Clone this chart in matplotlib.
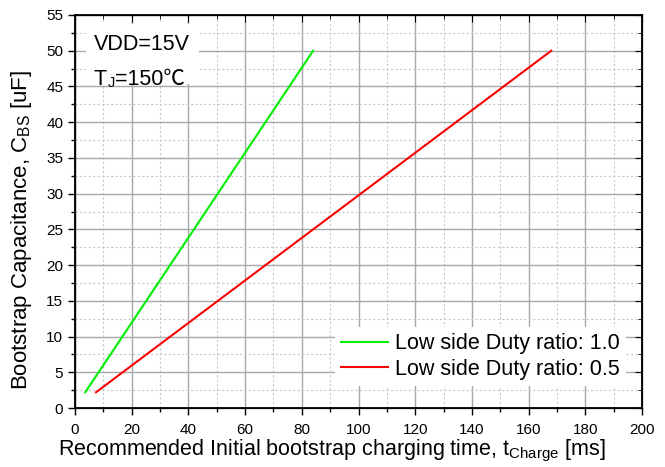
import matplotlib
matplotlib.use("Agg")
import matplotlib.pyplot as plt
from matplotlib.ticker import MultipleLocator
from matplotlib.patches import Rectangle

plt.rcParams['font.family'] = ['Liberation Sans', 'DejaVu Sans']
plt.rcParams['mathtext.fontset'] = 'custom'
plt.rcParams['mathtext.rm'] = 'Liberation Sans'
plt.rcParams['mathtext.it'] = 'Liberation Sans'

t_duty10 = [3.6, 84.0]
c_duty10 = [2.2, 50.0]
t_duty05 = [7.4, 168.0]
c_duty05 = [2.2, 50.0]
labels = ["Low side Duty ratio: 1.0", "Low side Duty ratio: 0.5"]

fig = plt.figure(figsize=(6.65, 4.67), dpi=100)
ax = fig.add_axes([0.1128, 0.1263, 0.8526, 0.8416])

ax.plot(t_duty10, c_duty10, color='#00ee00', lw=1.5, label=labels[0])
ax.plot(t_duty05, c_duty05, color='#ff0000', lw=1.5, label=labels[1])

ax.set_xlim(0, 200)
ax.set_ylim(0, 55)
ax.xaxis.set_major_locator(MultipleLocator(20))
ax.xaxis.set_minor_locator(MultipleLocator(10))
ax.yaxis.set_major_locator(MultipleLocator(5))
ax.yaxis.set_minor_locator(MultipleLocator(2.5))

ax.grid(which='major', color='#a8a8a8', lw=1.0, ls='-')
ax.grid(which='minor', color='#c8c8c8', lw=0.8, ls=(0, (2, 2)))
ax.set_axisbelow(True)

ax.tick_params(which='both', direction='out', labelsize=11, top=False, right=False)
ax.tick_params(which='major', length=5, width=1)
ax.tick_params(which='minor', length=3, width=1)
ax.tick_params(axis='x', pad=6)
for s in ax.spines.values():
    s.set_linewidth(1.3)

ax2 = ax.twinx()
ax2.set_ylim(0, 55)
ax2.yaxis.set_major_locator(MultipleLocator(5))
ax2.yaxis.set_minor_locator(MultipleLocator(2.5))
ax2.tick_params(which='both', direction='in', labelright=False)
ax2.tick_params(which='major', length=5)
ax2.tick_params(which='minor', length=3)
ax3 = ax.twiny()
ax3.set_xlim(0, 200)
ax3.xaxis.set_major_locator(MultipleLocator(20))
ax3.xaxis.set_minor_locator(MultipleLocator(10))
ax3.tick_params(which='both', direction='in', labeltop=False)
ax3.tick_params(which='major', length=5)
ax3.tick_params(which='minor', length=3)

ax.set_xlabel("Recommended Initial bootstrap charging time, t$_{\\mathregular{Charge}}$ [ms]", fontsize=15.5)
ax.set_ylabel("Bootstrap Capacitance, C$_{\\mathregular{BS}}$ [uF]", fontsize=16)
ax.xaxis.set_label_coords(0.453, -0.1196, transform=ax.transAxes)
ax.xaxis.label.set_va('baseline')
ax.yaxis.set_label_coords(-0.072, 0.452, transform=ax.transAxes)

# white annotation box
ax.add_patch(Rectangle((0.0194, 0.824), 0.199, 0.153, transform=ax.transAxes,
                       facecolor='white', edgecolor='none', zorder=4))
ax.text(0.033, 0.952, "VDD=15V", transform=ax.transAxes, fontsize=15.5, va='top', ha='left', zorder=5)
tT = ax.text(0.033, 0.862, "T", transform=ax.transAxes, fontsize=15.5, va='top', ha='left', zorder=5)
tJ = ax.annotate("J", xy=(1, 0), xycoords=tT, xytext=(0.5, 0), textcoords='offset points',
                 fontsize=10.5, va='bottom', ha='left', zorder=5)
ax.annotate("=150\u2103", xy=(1, 0), xycoords=tJ, xytext=(0.5, 0), textcoords='offset points',
            fontsize=15.5, va='bottom', ha='left', zorder=5,
            family=['Liberation Sans', 'Noto Sans CJK SC', 'DejaVu Sans'])

leg = ax.legend(loc='lower right', bbox_to_anchor=(0.972, 0.055), fontsize=15.5, frameon=True,
                fancybox=False, edgecolor='none', framealpha=1, handlelength=2.2,
                borderpad=0.3, labelspacing=0.22, handletextpad=0.3, borderaxespad=0)

fig.savefig("out.png", dpi=100)
